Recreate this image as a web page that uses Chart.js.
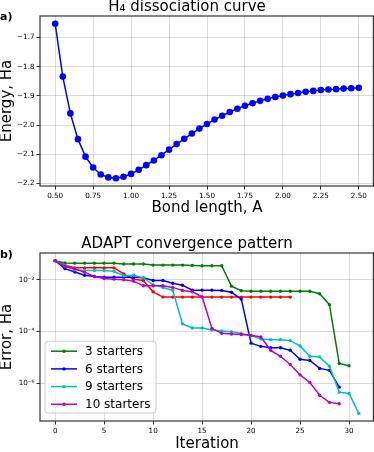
<!DOCTYPE html>
<html>
<head>
<meta charset="utf-8">
<script src="https://cdn.jsdelivr.net/npm/chart.js@4.4.1/dist/chart.umd.min.js"></script>
<style>
  body { margin: 0; background: #fff; }
  #wrap { position: relative; width: 374px; height: 452px; }
  canvas { position: absolute; left: 0; }
  #top-chart { top: 0; }
  #bottom-chart { top: 220px; }
</style>
</head>
<body>
<div id="wrap">
  <canvas id="top-chart" width="374" height="220"></canvas>
  <canvas id="bottom-chart" width="374" height="232"></canvas>
</div>
<script>
// a) H4 dissociation curve
const bondLengths = [0.50, 0.55, 0.60, 0.65, 0.70, 0.75, 0.80, 0.85, 0.90, 0.95,
  1.00, 1.05, 1.10, 1.15, 1.20, 1.25, 1.30, 1.35, 1.40, 1.45,
  1.50, 1.55, 1.60, 1.65, 1.70, 1.75, 1.80, 1.85, 1.90, 1.95,
  2.00, 2.05, 2.10, 2.15, 2.20, 2.25, 2.30, 2.35, 2.40, 2.45, 2.50];
const energies = [-1.653, -1.834, -1.960, -2.048, -2.108, -2.145, -2.169, -2.179, -2.182, -2.177,
  -2.167, -2.153, -2.137, -2.121, -2.103, -2.084, -2.065, -2.047, -2.029, -2.012,
  -1.996, -1.981, -1.968, -1.955, -1.944, -1.934, -1.925, -1.917, -1.910, -1.904,
  -1.899, -1.894, -1.890, -1.886, -1.883, -1.880, -1.878, -1.877, -1.875, -1.874, -1.872];
const bondTicks = [0.5, 0.75, 1.0, 1.25, 1.5, 1.75, 2.0, 2.25, 2.5];
const energyTicks = [-2.2, -2.1, -2.0, -1.9, -1.8, -1.7];

// b) ADAPT convergence pattern
const iterations = [0, 1, 2, 3, 4, 5, 6, 7, 8, 9, 10, 11, 12, 13, 14, 15,
  16, 17, 18, 19, 20, 21, 22, 23, 24, 25, 26, 27, 28, 29, 30, 31];
const starters3 = [5.5e-2, 4.5e-2, 4.4e-2, 4.4e-2, 4.4e-2, 4.4e-2, 4.4e-2, 4.1e-2, 4.1e-2, 4.1e-2,
  3.7e-2, 3.7e-2, 3.7e-2, 3.7e-2, 3.6e-2, 3.5e-2, 3.5e-2, 3.5e-2, 5.7e-3, 3.8e-3,
  3.6e-3, 3.6e-3, 3.6e-3, 3.6e-3, 3.6e-3, 3.6e-3, 3.6e-3, 2.9e-3, 1.1e-3, 5.9e-6, 4.8e-6];
const starters6 = [5.5e-2, 2.7e-2, 2.0e-2, 1.5e-2, 1.34e-2, 1.27e-2, 1.27e-2, 1.27e-2, 1.27e-2, 1.19e-2,
  9.4e-3, 9.4e-3, 7.4e-3, 6.2e-3, 4.0e-3, 4.0e-3, 4.0e-3, 3.9e-3, 3.3e-3, 1.8e-3,
  3.6e-5, 2.7e-5, 2.4e-5, 2.4e-5, 1.9e-5, 8.6e-6, 7.7e-6, 3.8e-6, 3.2e-6, 7.2e-7];
const starters9 = [5.5e-2, 3.45e-2, 2.43e-2, 2.29e-2, 2.29e-2, 2.29e-2, 2.15e-2, 1.43e-2, 1.51e-2, 1.19e-2,
  6.4e-3, 5.1e-3, 3.9e-3, 2.0e-4, 1.38e-4, 1.38e-4, 1.16e-4, 1.06e-4, 1.0e-4, 8.4e-5,
  7.0e-5, 5.2e-5, 4.9e-5, 4.9e-5, 4.5e-5, 2.8e-5, 1.12e-5, 1.06e-5, 4.6e-6, 4.6e-7, 4.1e-7, 7.0e-8];
const starters10 = [5.5e-2, 3.26e-2, 2.65e-2, 1.97e-2, 1.34e-2, 1.13e-2, 1.06e-2, 1.0e-2, 8.9e-3, 5.9e-3,
  5.9e-3, 5.9e-3, 5.1e-3, 3.9e-3, 3.45e-3, 2.2e-3, 1.34e-4, 8.6e-5, 8.1e-5, 7.7e-5,
  7.2e-5, 6.2e-5, 1.9e-5, 1.12e-5, 5.4e-6, 2.15e-6, 1.09e-6, 3.5e-7, 1.86e-7, 1.65e-7];
const unlabelledRun = [5.5e-2, 3.66e-2, 2.9e-2, 2.9e-2, 2.9e-2, 2.9e-2, 2.9e-2, 1.7e-2, 1.06e-2, 9.4e-3,
  3.45e-3, 2.15e-3, 2.15e-3, 2.15e-3, 2.15e-3, 2.15e-3, 2.15e-3, 2.15e-3, 2.15e-3, 2.15e-3,
  2.15e-3, 2.15e-3, 2.15e-3, 2.15e-3, 2.15e-3];
const iterTicks = [0, 5, 10, 15, 20, 25, 30];
const errorTicks = [1e-2, 1e-4, 1e-6];

Chart.defaults.font.family = "'DejaVu Sans', sans-serif";
Chart.defaults.color = '#000';

const GRID = 'rgba(0,0,0,0.14)';
const TICK_FONT = { size: 7.2 };
const LABEL_FONT = { size: 15 };

function padded(values, frac) {
  const lo = Math.min(...values), hi = Math.max(...values);
  const m = (hi - lo) * frac;
  return [lo - m, hi + m];
}

function superscript(n) {
  const map = { '-': '\u207B', '0': '\u2070', '1': '\u00B9', '2': '\u00B2', '3': '\u00B3',
    '4': '\u2074', '5': '\u2075', '6': '\u2076', '7': '\u2077', '8': '\u2078', '9': '\u2079' };
  return String(n).split('').map(c => map[c]).join('');
}

// keep the plot box fixed: no extra room for overhanging tick labels
function fixWidth(w) {
  return s => { s.width = w; s.paddingTop = 0; s.paddingBottom = 0; };
}
function fixHeight(h) {
  return s => { s.height = h; s.paddingLeft = 0; s.paddingRight = 0; };
}

const frame = {
  id: 'frame',
  afterDatasetsDraw(chart) {
    const { ctx, chartArea: a } = chart;
    ctx.save();
    ctx.strokeStyle = '#333';
    ctx.lineWidth = 1.2;
    ctx.strokeRect(a.left, a.top, a.right - a.left - 0.6, a.bottom - a.top);
    ctx.restore();
  }
};

const panelTag = {
  id: 'panelTag',
  afterDraw(chart, args, opts) {
    const ctx = chart.ctx;
    ctx.save();
    ctx.font = "bold 11px 'DejaVu Sans'";
    ctx.fillStyle = '#000';
    ctx.textBaseline = 'middle';
    ctx.fillText(opts.text, 0, opts.y);
    ctx.restore();
  }
};

const insetLegend = {
  id: 'insetLegend',
  afterDatasetsDraw(chart) {
    const { ctx, chartArea: a } = chart;
    const items = chart.data.datasets.filter(d => d.label);
    const rowH = 17.7;
    const w = 111, h = items.length * rowH + 1;
    const x = a.left + 5, y = a.bottom - 8 - h;
    ctx.save();
    ctx.beginPath();
    ctx.roundRect(x, y, w, h, 3);
    ctx.fillStyle = 'rgba(255,255,255,0.8)';
    ctx.fill();
    ctx.strokeStyle = '#cccccc';
    ctx.lineWidth = 1;
    ctx.stroke();
    ctx.font = "12px 'DejaVu Sans'";
    ctx.textBaseline = 'middle';
    items.forEach((d, i) => {
      const cy = y + 10 + i * rowH;
      ctx.strokeStyle = d.borderColor;
      ctx.lineWidth = d.borderWidth;
      ctx.beginPath();
      ctx.moveTo(x + 6, cy);
      ctx.lineTo(x + 32, cy);
      ctx.stroke();
      ctx.fillStyle = d.borderColor;
      ctx.beginPath();
      ctx.arc(x + 19, cy, d.pointRadius, 0, Math.PI * 2);
      ctx.fill();
      ctx.fillStyle = '#000';
      ctx.fillText(d.label, x + 40, cy + 0.5);
    });
    ctx.restore();
  }
};

// ---- top chart ----
const [bMin, bMax] = padded(bondLengths, 0.05);
const [eMin, eMax] = padded(energies, 0.05);

new Chart(document.getElementById('top-chart'), {
  type: 'line',
  data: {
    datasets: [{
      data: energies.map((e, i) => ({ x: bondLengths[i], y: e })),
      borderColor: '#0000ff',
      backgroundColor: '#0000ff',
      borderWidth: 1.5,
      pointRadius: 3.3,
      pointBorderWidth: 0,
      pointBackgroundColor: '#0000ff'
    }]
  },
  options: {
    responsive: false,
    animation: false,
    events: [],
    plugins: {
      legend: { display: false },
      tooltip: { enabled: false },
      title: {
        display: true,
        text: 'H\u2084 dissociation curve',
        font: { size: 15, weight: 'normal' },
        padding: { top: -2, bottom: 0 }
      },
      panelTag: { text: 'a)', y: 17 }
    },
    layout: { padding: 0, autoPadding: false },
    scales: {
      x: {
        type: 'linear',
        min: bMin,
        max: bMax,
        afterBuildTicks: s => { s.ticks = bondTicks.map(v => ({ value: v })); },
        afterFit: fixHeight(34),
        ticks: {
          autoSkip: false, maxRotation: 0, padding: 2.5, font: TICK_FONT,
          callback: v => v.toFixed(2)
        },
        grid: { color: GRID, tickColor: '#333', tickLength: 3.5 },
        border: { display: false },
        title: { display: true, text: 'Bond length, A', font: LABEL_FONT, padding: { top: 0, bottom: 3 } }
      },
      y: {
        type: 'linear',
        min: eMin,
        max: eMax,
        afterBuildTicks: s => { s.ticks = energyTicks.map(v => ({ value: v })); },
        afterFit: fixWidth(40),
        ticks: {
          padding: 2, font: TICK_FONT,
          callback: v => (v < 0 ? '\u2212' : '') + Math.abs(v).toFixed(1)
        },
        grid: { color: GRID, tickColor: '#333', tickLength: 3.5 },
        border: { display: false },
        title: { display: true, text: 'Energy, Ha', font: LABEL_FONT, padding: { top: -1.5, bottom: 0 } }
      }
    }
  },
  plugins: [frame, panelTag]
});

// ---- bottom chart ----
const [iMin, iMax] = padded(iterations, 0.05);
const allErrors = [].concat(starters3, starters6, starters9, starters10, unlabelledRun);
const [lMin, lMax] = padded(allErrors.map(Math.log10), 0.05);

function run(values, label, color, order) {
  return {
    label,
    data: values.map((v, i) => ({ x: iterations[i], y: v })),
    borderColor: color,
    backgroundColor: color,
    pointBackgroundColor: color,
    borderWidth: 1.5,
    pointRadius: 1.7,
    pointBorderWidth: 0,
    order
  };
}

new Chart(document.getElementById('bottom-chart'), {
  type: 'line',
  data: {
    datasets: [
      run(unlabelledRun, undefined, '#ff0000', 5),
      run(starters3, '3 starters', '#008000', 4),
      run(starters6, '6 starters', '#0000ff', 3),
      run(starters9, '9 starters', '#00bfbf', 2),
      run(starters10, '10 starters', '#bf00bf', 1)
    ]
  },
  options: {
    responsive: false,
    animation: false,
    events: [],
    plugins: {
      legend: { display: false },
      tooltip: { enabled: false },
      title: {
        display: true,
        text: 'ADAPT convergence pattern',
        font: { size: 15, weight: 'normal' },
        padding: { top: 15, bottom: 0 }
      },
      panelTag: { text: 'b)', y: 35 }
    },
    layout: { padding: 0, autoPadding: false },
    scales: {
      x: {
        type: 'linear',
        min: iMin,
        max: iMax,
        afterBuildTicks: s => { s.ticks = iterTicks.map(v => ({ value: v })); },
        afterFit: fixHeight(31),
        ticks: { autoSkip: false, maxRotation: 0, padding: 2, font: TICK_FONT },
        grid: { color: GRID, tickColor: '#333', tickLength: 3.5 },
        border: { display: false },
        title: { display: true, text: 'Iteration', font: LABEL_FONT, padding: { top: 0, bottom: -1 } }
      },
      y: {
        type: 'logarithmic',
        min: Math.pow(10, lMin),
        max: Math.pow(10, lMax),
        afterBuildTicks: s => { s.ticks = errorTicks.map(v => ({ value: v })); },
        afterFit: fixWidth(40),
        ticks: {
          padding: 2, font: TICK_FONT,
          callback: v => '10' + superscript(Math.round(Math.log10(v)))
        },
        grid: { color: GRID, tickColor: '#333', tickLength: 3.5 },
        border: { display: false },
        title: { display: true, text: 'Error, Ha', font: LABEL_FONT, padding: { top: -1.5, bottom: 0 } }
      }
    }
  },
  plugins: [frame, panelTag, insetLegend]
});
</script>
</body>
</html>
